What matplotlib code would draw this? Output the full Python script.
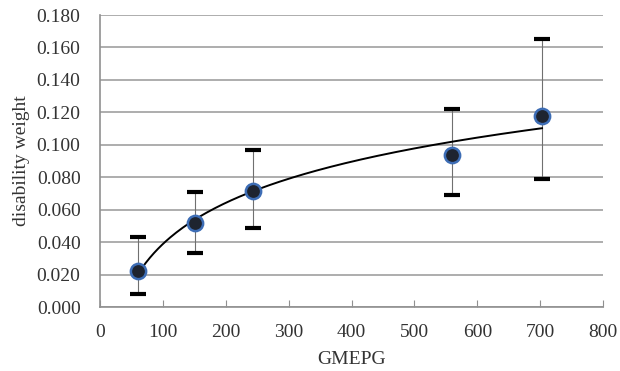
import numpy as np
import matplotlib
matplotlib.use('Agg')
import matplotlib.pyplot as plt

gmepg = [60, 151, 243, 560, 703]
weight = [0.022, 0.052, 0.0715, 0.094, 0.118]
upper = [0.043, 0.071, 0.097, 0.122, 0.165]
lower = [0.008, 0.033, 0.049, 0.069, 0.079]

x_ticks = [0, 100, 200, 300, 400, 500, 600, 700, 800]
y_ticks = [0.0, 0.02, 0.04, 0.06, 0.08, 0.10, 0.12, 0.14, 0.16, 0.18]

plt.rcParams['font.family'] = ['Liberation Serif', 'DejaVu Serif']

fig = plt.figure(figsize=(6.2, 3.71), dpi=100)
ax = fig.add_axes([100 / 620, 1 - 307 / 371, 503 / 620, 292 / 371])

# logarithmic trend line, as in a spreadsheet
a, b = np.polyfit(np.log(gmepg), weight, 1)
xs = np.linspace(gmepg[0], gmepg[-1], 200)
ax.plot(xs, a * np.log(xs) + b, color='black', lw=1.4, zorder=3)

yerr = [np.array(weight) - np.array(lower), np.array(upper) - np.array(weight)]
ax.errorbar(gmepg, weight, yerr=yerr, fmt='none', ecolor='#707070', elinewidth=0.8,
            capsize=0, zorder=2)
ax.plot(gmepg, upper, ls='none', marker='_', ms=12, mew=3, color='black', zorder=4)
ax.plot(gmepg, lower, ls='none', marker='_', ms=12, mew=3, color='black', zorder=4)

ax.plot(gmepg, weight, ls='none', marker='o', ms=11, mfc='#1e2430', mec='#3d6db5', mew=1.8, zorder=5)

ax.set_xlim(0, 800)
ax.set_ylim(0, 0.18)
ax.set_xticks(x_ticks)
ax.set_yticks(y_ticks)
ax.set_yticklabels(['%.3f' % v for v in y_ticks])
ax.yaxis.grid(True, color='#a0a0a0', lw=1.2)
ax.set_axisbelow(True)
for s in ['top', 'right']:
    ax.spines[s].set_visible(False)
for s in ['left', 'bottom']:
    ax.spines[s].set_color('#909090')
    ax.spines[s].set_linewidth(1.2)
ax.tick_params(axis='x', direction='in', length=5, color='#909090', labelsize=14, labelcolor='#333333', pad=12)
ax.tick_params(axis='y', length=0, labelsize=14, labelcolor='#333333', pad=14)
ax.set_xlabel('GMEPG', fontsize=14, color='#333333')
ax.set_ylabel('disability weight', fontsize=14, color='#333333')
ax.xaxis.set_label_coords(0.5, -0.152)
ax.yaxis.set_label_coords(-0.14, 0.5)

plt.savefig('out.png', dpi=100)
